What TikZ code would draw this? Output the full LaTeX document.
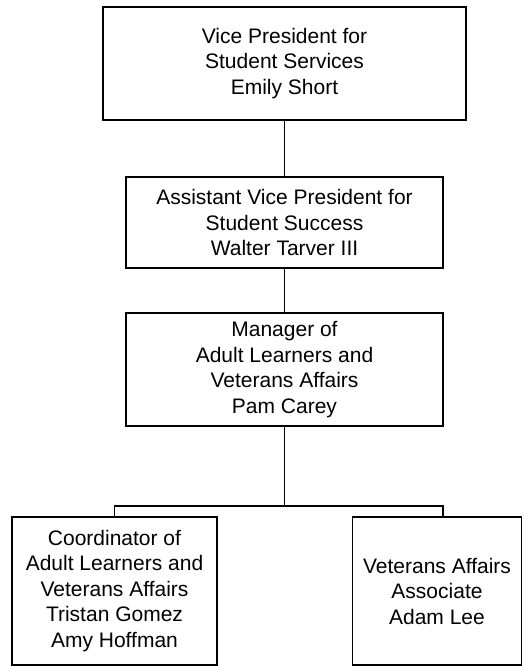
\documentclass[tikz,border=0pt]{standalone}
\usepackage{fontspec}
\setmainfont{Liberation Sans}
\begin{document}
\begin{tikzpicture}[x=1pt,y=-1pt,
  box/.style={draw=black, line width=1.6pt, align=center, inner sep=0pt,
    font=\fontsize{21}{25.5}\selectfont},
  link/.style={draw=black, line width=1.6pt}]
\useasboundingbox (0,0) rectangle (523,666);
\node[box, minimum width=363pt, minimum height=113pt] (b1) at (284.5,63.5)
  {Vice President for\\Student Services\\Emily Short};
\node[box, minimum width=317pt, minimum height=91pt] (b2) at (284.5,222.5)
  {Assistant Vice President for\\Student Success\\Walter Tarver III};
\node[box, minimum width=317pt, minimum height=113pt] (b3) at (284.5,369.5)
  {Manager of\\Adult Learners and\\Veterans Affairs\\Pam Carey};
\node[box, minimum width=205pt, minimum height=148pt] (b4) at (114.5,591)
  {Coordinator of\\Adult Learners and\\Veterans Affairs\\Tristan Gomez\\Amy Hoffman};
\node[box, minimum width=169pt, minimum height=148pt] (b5) at (437,591)
  {Veterans Affairs\\Associate\\Adam Lee};
\coordinate (busL) at (114.5,506);
\coordinate (busR) at (443,506);
\draw[link] (b1.south) -- (b2.north);
\draw[link] (b2.south) -- (b3.north);
\draw[link] (b3.south) -- (b3.south |- busL);
\draw[link] (b4.north) -- (busL) -- (busR) -- (busR |- b5.north);
\end{tikzpicture}
\end{document}
